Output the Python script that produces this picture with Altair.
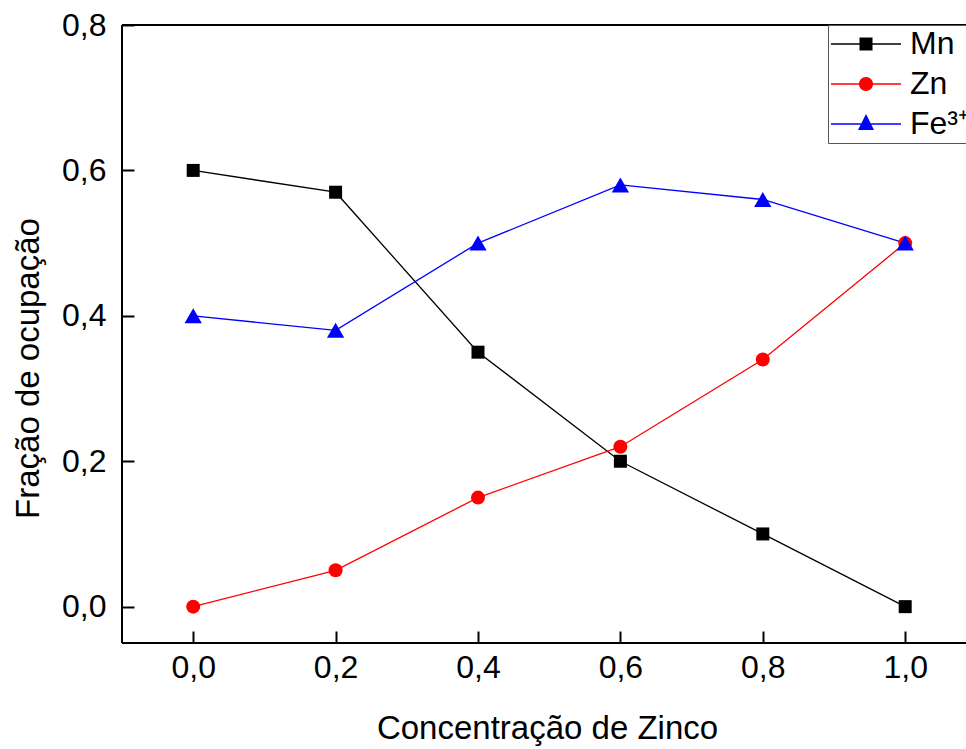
import altair as alt
import pandas as pd

# ---- data ----
conc = [0.0, 0.2, 0.4, 0.6, 0.8, 1.0]
mn = [0.60, 0.57, 0.35, 0.20, 0.10, 0.00]
zn = [0.00, 0.05, 0.15, 0.22, 0.34, 0.50]
fe = [0.40, 0.38, 0.50, 0.58, 0.56, 0.50]
series = ["Mn", "Zn", "Fe³⁺"]
x_ticks = [0.0, 0.2, 0.4, 0.6, 0.8, 1.0]
y_ticks = [0.0, 0.2, 0.4, 0.6, 0.8]

# ---- styles ----
colors = ["#000000", "#ff0000", "#0000ff"]
shapes = ["square", "circle", "triangle-up"]
marker_sizes = [169, 196, 300]
# legend symbols: a line segment with the marker on it (unit = 16 px)
legend_paths = [
    "M-1,-0.04H3.375V0.04H-1Z M0.781,-0.406H1.594V0.406H0.781Z",
    "M-1,-0.04H3.375V0.04H-1Z M0.75,0A0.4375,0.4375,0,1,1,1.625,0A0.4375,0.4375,0,1,1,0.75,0Z",
    "M-1,-0.04H3.375V0.04H-1Z M1.1875,-0.625L1.6875,0.375L0.6875,0.375Z",
]
FONT = "Liberation Sans"

rows = []
for name, vals in zip(series, [mn, zn, fe]):
    for c, v in zip(conc, vals):
        rows.append({"conc": c, "frac": v, "serie": name})
df = pd.DataFrame(rows)

W, H = 844, 618
xscale = alt.Scale(domain=[-0.1, 1.0854], nice=False, zero=False)
yscale = alt.Scale(domain=[-0.05, 0.8], nice=False, zero=False)
label_expr = "replace(format(datum.value, '.1f'), '.', ',')"

x_axis = alt.Axis(
    values=x_ticks, orient="bottom", offset=-12, tickSize=12, tickWidth=2,
    tickColor="black", domain=False, grid=False, labelExpr=label_expr,
    labelFont=FONT, labelFontSize=32, labelColor="black", labelPadding=9,
    title="Concentração de Zinco", titleFont=FONT, titleFontSize=33,
    titleFontWeight="normal", titleColor="black", titleX=425, titleY=107,
    titleBaseline="alphabetic", titleAlign="center",
)
y_axis = alt.Axis(
    values=y_ticks, orient="left", offset=-12, tickSize=12, tickWidth=2,
    tickColor="black", domain=False, grid=False, labelExpr=label_expr,
    labelFont=FONT, labelFontSize=32, labelColor="black", labelPadding=16,
    title="Fração de ocupação", titleFont=FONT, titleFontSize=33,
    titleFontWeight="normal", titleColor="black", titleX=-96, titleY=343,
    titleBaseline="alphabetic", titleAlign="center", titleAngle=270,
)

X = alt.X("conc:Q", scale=xscale, axis=x_axis)
Y = alt.Y("frac:Q", scale=yscale, axis=y_axis)

base = alt.Chart(df)

frame = [
    base.mark_rule(color="black", strokeWidth=2).encode(
        x=alt.value(0), x2=alt.value(W), y=alt.value(0)),
    base.mark_rule(color="black", strokeWidth=2).encode(
        x=alt.value(0), y=alt.value(0), y2=alt.value(H)),
    base.mark_rule(color="black", strokeWidth=2).encode(
        x=alt.value(0), x2=alt.value(W), y=alt.value(H)),
]

layers = []
for name, col, shp, sz in zip(series, colors, shapes, marker_sizes):
    sub = base.transform_filter(alt.datum.serie == name)
    layers.append(sub.mark_line(color=col, strokeWidth=1.3).encode(x=X, y=Y))
for name, col, shp, sz in zip(series, colors, shapes, marker_sizes):
    sub = base.transform_filter(alt.datum.serie == name)
    layers.append(sub.mark_point(shape=shp, filled=True, size=sz, color=col,
                                 opacity=1).encode(x=X, y=Y))

leg = alt.Legend(
    orient="none", legendX=706, legendY=0, direction="vertical", title=None,
    symbolSize=1024, symbolStrokeWidth=0, symbolOpacity=1,
    labelFont=FONT, labelFontSize=32, labelColor="black", labelOffset=47,
    padding=3, rowPadding=8, strokeColor="#555555", fillColor="white",
    labelLimit=300,
)
legend_layer = base.mark_point(filled=True).encode(
    x=X, y=Y,
    color=alt.Color("serie:N", scale=alt.Scale(domain=series, range=colors), legend=leg),
    shape=alt.Shape("serie:N", scale=alt.Scale(domain=series, range=legend_paths), legend=leg),
    opacity=alt.value(0),
)

chart = alt.layer(*frame, *layers, legend_layer).properties(
    width=W, height=H,
    padding={"left": 122, "top": 25, "right": 0, "bottom": 106},
    autosize=alt.AutoSizeParams(type="none"),
    background="white",
).configure_view(stroke=None)

chart.save("out.html", embed_options={"renderer": "svg", "actions": False})
